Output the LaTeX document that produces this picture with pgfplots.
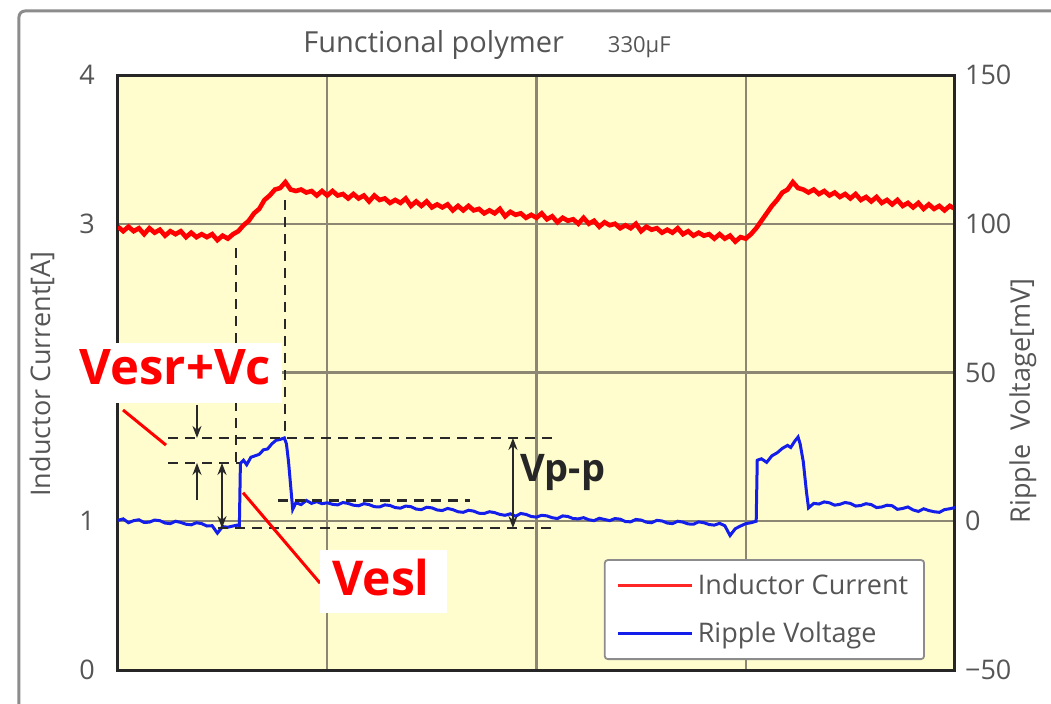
\documentclass[border=0pt]{standalone}
\usepackage{fontspec}
\setmainfont{Open Sans}
\usepackage{pgfplots}
\pgfplotsset{compat=1.18}
\usetikzlibrary{arrows.meta}
\definecolor{bgyellow}{RGB}{255,253,205}
\definecolor{gridcol}{RGB}{140,135,115}
\definecolor{txtgray}{RGB}{85,85,85}
\definecolor{redline}{RGB}{255,0,0}
\definecolor{blueline}{RGB}{20,30,235}
\definecolor{dashcol}{RGB}{40,40,40}
\begin{document}
\begin{tikzpicture}
\pgfplotsset{
  common/.style={
    scale only axis, width=418.5pt, height=297.5pt,
    at={(0,0)}, anchor=south west,
    xmin=0, xmax=8,
    major tick length=0pt,
    tick label style={font=\fontsize{13.5}{15}\selectfont, text=txtgray},
    /pgf/number format/assume math mode=true,
    label style={font=\fontsize{13.5}{15}\selectfont, text=txtgray},
  }
}
\begin{axis}[common,
  ymin=0, ymax=4, ytick={0,1,2,3,4}, yticklabels={0,1,,3,4},
  xtick={2,4,6}, xticklabels={},
  grid=major,
  major grid style={gridcol, line width=1.1pt},
  axis line style={draw=black!85, line width=1.5pt},
  axis background/.style={fill=bgyellow},
  ytick pos=left,
  yticklabel style={xshift=-8pt},
  ylabel={Inductor Current[A]},
  ylabel style={at={(axis description cs:-0.0908,0.4975)}, anchor=center},
]
\addplot[redline, line width=2.3pt] coordinates {
(0.00,2.98)(0.05,2.95)(0.10,2.98)(0.15,2.95)(0.20,2.97)(0.25,2.93)(0.30,2.97)(0.35,2.94)(0.40,2.96)(0.45,2.92)
(0.50,2.95)(0.55,2.93)(0.60,2.95)(0.65,2.91)(0.70,2.94)(0.75,2.91)(0.80,2.93)(0.85,2.91)(0.90,2.93)(0.95,2.89)
(1.00,2.92)(1.05,2.90)(1.10,2.93)(1.15,2.95)(1.20,2.99)(1.25,3.02)(1.30,3.07)(1.35,3.10)(1.40,3.16)(1.45,3.19)
(1.50,3.23)(1.55,3.24)(1.60,3.28)(1.65,3.23)(1.70,3.22)(1.75,3.23)(1.80,3.21)(1.85,3.22)(1.90,3.19)(1.95,3.22)
(2.00,3.19)(2.05,3.22)(2.10,3.19)(2.15,3.20)(2.20,3.17)(2.25,3.20)(2.30,3.17)(2.35,3.19)(2.40,3.15)(2.45,3.19)
(2.50,3.16)(2.55,3.17)(2.60,3.14)(2.65,3.16)(2.70,3.14)(2.75,3.17)(2.80,3.12)(2.85,3.15)(2.90,3.12)(2.95,3.15)
(3.00,3.11)(3.05,3.13)(3.10,3.11)(3.15,3.13)(3.20,3.09)(3.25,3.12)(3.30,3.09)(3.35,3.12)(3.40,3.09)(3.45,3.10)
(3.50,3.07)(3.55,3.09)(3.60,3.07)(3.65,3.10)(3.70,3.05)(3.75,3.08)(3.80,3.06)(3.85,3.07)(3.90,3.04)(3.95,3.06)
(4.00,3.04)(4.05,3.07)(4.10,3.03)(4.15,3.05)(4.20,3.01)(4.25,3.04)(4.30,3.02)(4.35,3.03)(4.40,3.00)(4.45,3.04)
(4.50,3.00)(4.55,3.02)(4.60,2.98)(4.65,3.01)(4.70,2.99)(4.75,3.00)(4.80,2.97)(4.85,2.99)(4.90,2.97)(4.95,3.00)
(5.00,2.95)(5.05,2.98)(5.10,2.96)(5.15,2.97)(5.20,2.94)(5.25,2.96)(5.30,2.94)(5.35,2.97)(5.40,2.93)(5.45,2.95)
(5.50,2.92)(5.55,2.94)(5.60,2.92)(5.65,2.93)(5.70,2.90)(5.75,2.93)(5.80,2.90)(5.85,2.92)(5.90,2.88)(5.95,2.91)
(6.00,2.90)(6.05,2.93)(6.10,2.97)(6.15,3.02)(6.20,3.07)(6.25,3.12)(6.30,3.16)(6.35,3.21)(6.40,3.23)(6.45,3.28)
(6.50,3.24)(6.55,3.23)(6.60,3.21)(6.65,3.23)(6.70,3.20)(6.75,3.22)(6.80,3.19)(6.85,3.21)(6.90,3.18)(6.95,3.20)
(7.00,3.17)(7.05,3.20)(7.10,3.16)(7.15,3.18)(7.20,3.15)(7.25,3.18)(7.30,3.14)(7.35,3.16)(7.40,3.13)(7.45,3.16)
(7.50,3.12)(7.55,3.14)(7.60,3.11)(7.65,3.14)(7.70,3.10)(7.75,3.13)(7.80,3.10)(7.85,3.12)(7.90,3.09)(7.95,3.12)
(8.00,3.10)
};
\end{axis}
\begin{axis}[common,
  ymin=-50, ymax=150, ytick={-50,0,50,100,150},
  yticklabels={−50,0,50,100,150},
  axis x line=none, axis y line*=right,
  axis line style={draw=black!85, line width=1.5pt},
  yticklabel style={xshift=1.5pt},
  ylabel={Ripple~~Voltage[mV]},
  ylabel style={at={(axis description cs:1.0812,0.452)}, anchor=center},
  clip=false,
  legend style={at={(1,0)}, anchor=south east, xshift=-15pt, yshift=5pt,
    draw=black!45, line width=0.9pt, fill=white, rounded corners=1.5pt,
    font=\fontsize{13.5}{15}\selectfont, text=txtgray,
    cells={anchor=west}, row sep=8pt, inner xsep=6pt, inner ysep=5pt},
  legend image code/.code={\draw[#1] (0pt,0pt) -- (37pt,0pt);},
]
\addlegendimage{redline!85, line width=1.4pt}
\addlegendentry{Inductor Current}
\addplot[blueline, line width=1.5pt] coordinates {
(0.00,0.3)(0.05,0.8)(0.10,-0.5)(0.15,0.2)(0.20,0.5)(0.25,-0.4)(0.30,-0.3)(0.35,0.4)(0.40,0.2)(0.45,-0.6)
(0.50,-0.8)(0.55,0.0)(0.60,-0.4)(0.65,-1.0)(0.70,-1.2)(0.75,-0.5)(0.80,-0.8)(0.85,-1.6)(0.90,-1.5)(0.95,-4.0)
(1.00,-1.8)(1.05,-2.0)(1.10,-1.6)(1.14,-1.3)(1.16,-1.5)(1.17,19.5)(1.20,20.5)(1.23,19.0)(1.27,21.5)(1.31,22.0)
(1.35,22.5)(1.39,24.0)(1.43,24.3)(1.47,26.0)(1.51,27.2)(1.55,27.5)(1.59,28.0)(1.61,26.0)(1.63,20.0)(1.65,12.0)
(1.67,4.0)(1.70,6.2)(1.75,5.6)(1.80,7.0)(1.85,6.0)(1.90,6.6)(1.95,5.9)(2.00,6.2)(2.05,5.7)(2.10,5.5)
(2.15,6.3)(2.20,6.0)(2.25,5.4)(2.30,5.2)(2.35,5.9)(2.40,5.6)(2.45,4.9)(2.50,4.8)(2.55,5.5)(2.60,5.3)
(2.65,4.6)(2.70,4.4)(2.75,5.1)(2.80,4.9)(2.85,4.1)(2.90,3.9)(2.95,4.7)(3.00,4.5)(3.05,3.8)(3.10,3.6)
(3.15,4.3)(3.20,3.9)(3.25,3.2)(3.30,3.0)(3.35,3.7)(3.40,3.4)(3.45,2.7)(3.50,2.6)(3.55,3.2)(3.60,2.9)
(3.65,2.3)(3.70,2.0)(3.75,2.5)(3.80,1.7)(3.85,2.6)(3.90,2.3)(3.95,1.6)(4.00,1.4)(4.05,2.0)(4.10,1.8)
(4.15,1.2)(4.20,0.9)(4.25,1.8)(4.30,1.6)(4.35,0.9)(4.40,0.8)(4.45,1.2)(4.50,0.5)(4.55,0.2)(4.60,1.0)
(4.65,0.6)(4.70,0.2)(4.75,0.9)(4.80,0.7)(4.85,-0.1)(4.90,-0.2)(4.95,0.6)(5.00,0.4)(5.05,-0.3)(5.10,-0.5)
(5.15,0.3)(5.20,0.1)(5.25,-0.6)(5.30,-0.8)(5.35,0.0)(5.40,-0.3)(5.45,-0.9)(5.50,-1.0)(5.55,-0.2)(5.60,-0.5)
(5.65,-1.1)(5.70,-1.3)(5.75,-0.7)(5.80,-1.5)(5.85,-4.8)(5.90,-2.5)(5.95,-1.6)(6.00,-0.8)(6.05,-0.5)(6.10,0.0)
(6.11,20.5)(6.15,21.0)(6.20,19.8)(6.25,22.0)(6.30,23.0)(6.35,24.5)(6.40,25.5)(6.43,24.8)(6.47,27.0)(6.50,28.3)
(6.52,26.0)(6.55,20.0)(6.58,10.0)(6.60,4.5)(6.65,6.0)(6.70,5.8)(6.75,6.5)(6.80,6.2)(6.85,5.4)(6.90,5.7)
(6.95,6.3)(7.00,6.0)(7.05,5.1)(7.10,5.3)(7.15,5.9)(7.20,5.6)(7.25,4.6)(7.30,4.8)(7.35,5.4)(7.40,5.2)
(7.45,4.0)(7.50,4.3)(7.55,4.8)(7.60,3.8)(7.65,3.3)(7.70,4.2)(7.75,3.6)(7.80,3.2)(7.85,3.0)(7.90,3.9)
(7.95,4.2)(8.00,4.6)
};
\addlegendentry{Ripple Voltage}
% dashed guide lines
\begin{scope}[dashcol, line width=1.4pt, dash pattern=on 5pt off 3.5pt]
\draw (axis cs:0.478,28) -- (axis cs:4.148,28);
\draw (axis cs:0.478,19.6) -- (axis cs:1.166,19.6);
\draw (axis cs:0.956,-2.3) -- (axis cs:4.148,-2.3);
\draw (axis cs:1.529,7.1) -- (axis cs:3.364,7.1);
\draw (axis cs:1.128,91.8) -- (axis cs:1.128,19.6);
\draw (axis cs:1.596,108) -- (axis cs:1.596,28);
\end{scope}
% arrows
\begin{scope}[dashcol, line width=0.9pt, >={Stealth[length=6pt,width=4.5pt]}]
\draw[->] (axis cs:0.755,39.1) -- (axis cs:0.755,28);
\draw[->] (axis cs:0.755,7.1) -- (axis cs:0.755,19.6);
\draw[<->] (axis cs:0.994,19.6) -- (axis cs:0.994,-2.3);
\draw[<->] (axis cs:3.775,28) -- (axis cs:3.775,-2.3);
\end{scope}
% red callout lines
\draw[redline, line width=1.5pt] (axis cs:0.048,37.4) -- (axis cs:0.459,25.6);
\draw[redline, line width=1.5pt] (axis cs:1.195,9.6) -- (axis cs:1.931,-20.8);
% label boxes
\fill[white] (axis cs:-0.507,59.9) rectangle (axis cs:1.567,39.7);
\node[anchor=base, text=redline, font=\bfseries\fontsize{24.5}{26}\selectfont, inner sep=0pt] at (axis cs:0.545,45.8) {Vesr+Vc};
\fill[white] (axis cs:1.931,-9.66) rectangle (axis cs:3.145,-30.8);
\node[anchor=base, text=redline, font=\bfseries\fontsize{24}{26}\selectfont, inner sep=0pt] at (axis cs:2.514,-25.1) {Vesl};
\node[anchor=base west, text=black!85, font=\bfseries\fontsize{19}{21}\selectfont, inner sep=0pt] at (axis cs:3.842,13.2) {Vp-p};
\end{axis}
\begin{scope}[shift={(-59pt,335pt)}, x=0.5pt, y=-0.5pt]
\node[anchor=base west, text=txtgray, inner sep=0pt] at (303,53)
  {\fontsize{14.5}{16}\selectfont Functional polymer\hspace{22pt}{\fontsize{11}{12}\selectfont 330μF}};
\draw[black!45, line width=1.5pt, rounded corners=3pt] (19,720) -- (19,11) -- (1070,11);
\pgfresetboundingbox
\path[use as bounding box] (0,0) rectangle (1051,703);
\end{scope}
\end{tikzpicture}
\end{document}
